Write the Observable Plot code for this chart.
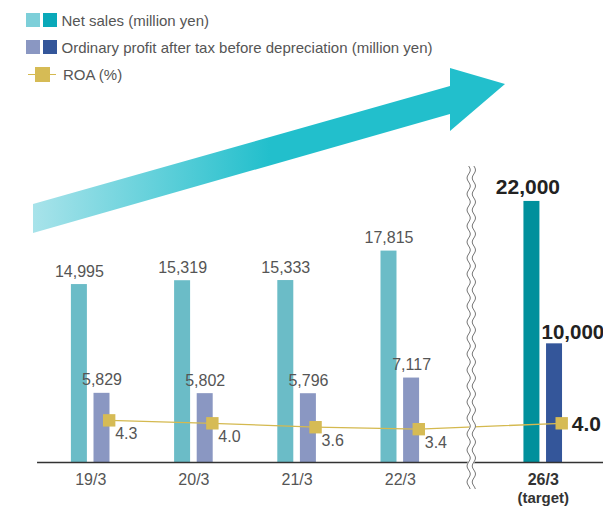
<!DOCTYPE html>
<html><head><meta charset="utf-8">
<script src="https://cdn.jsdelivr.net/npm/d3@7"></script>
<script src="https://cdn.jsdelivr.net/npm/@observablehq/plot@0.6"></script>
<style>
body{margin:0;background:#fff;font-family:"Liberation Sans",Arial,sans-serif;}
#wrap{position:relative;width:603px;height:507px;overflow:hidden;background:#fff;}
#wrap svg{position:absolute;left:0;top:0;}
.legend{position:absolute;left:0;top:0;font-size:15px;color:#555;}
.row{position:absolute;left:26px;display:flex;align-items:center;height:16px;white-space:nowrap;}
.sw{width:14px;height:14px;display:inline-block;margin-right:2.5px;}
.roa-sw{position:relative;width:28px;height:16px;margin-right:7px;margin-left:2px;}
.roa-sw .ln{position:absolute;left:0;right:0;top:7.5px;height:1.3px;background:#d4b94f;}
.roa-sw .sq{position:absolute;left:7px;top:0.5px;width:15px;height:15px;background:#d6bb55;}
</style></head><body><div id="wrap"></div>
<script>
// ---- data ----
const periods = ["19/3", "20/3", "21/3", "22/3", "26/3"];
const periodNotes = ["", "", "", "", "(target)"];
const netSales = [14995, 15319, 15333, 17815, 22000];
const profit = [5829, 5802, 5796, 7117, 10000];
const roa = [4.3, 4.0, 3.6, 3.4, 4.0];
const isTarget = [false, false, false, false, true];
const legendLabels = ["Net sales (million yen)", "Ordinary profit after tax before depreciation (million yen)", "ROA (%)"];

// ---- layout ----
const W = 603, H = 507;
const slot = i => isTarget[i] ? 4.385 : i;   // target sits beyond the axis break
const rows = periods.map((p, i) => ({p, note: periodNotes[i], x: slot(i), net: netSales[i], profit: profit[i], roa: roa[i], target: isTarget[i]}));
const xDomain = [-0.874, 4.969];
const hw = 0.0775, off = 0.1095, mOff = 0.179;
const fmt = d3.format(",");
const font = "'Liberation Sans', Arial, sans-serif";
const common = {
  width: W, height: H, marginLeft: 0, marginRight: 0, marginTop: 106, marginBottom: 45,
  x: {domain: xDomain, axis: null},
  style: {fontFamily: font, background: "transparent", overflow: "visible"}
};
const past = d => !d.target, tgt = d => d.target;

const bars = Plot.plot({
  ...common,
  y: {domain: [0, 30000], axis: null},
  marks: [
    Plot.rectY(rows, {filter: past, x1: d => d.x - off - hw, x2: d => d.x - off + hw, y1: 0, y2: "net", fill: "#6bbcc7"}),
    Plot.rectY(rows, {filter: tgt, x1: d => d.x - off - hw, x2: d => d.x - off + hw, y1: 0, y2: "net", fill: "#00909c"}),
    Plot.rectY(rows, {filter: past, x1: d => d.x + off - hw, x2: d => d.x + off + hw, y1: 0, y2: "profit", fill: "#8a97c2"}),
    Plot.rectY(rows, {filter: tgt, x1: d => d.x + off - hw, x2: d => d.x + off + hw, y1: 0, y2: "profit", fill: "#34569a"}),
    Plot.ruleY([0], {x1: -0.515, x2: xDomain[1], stroke: "#333", strokeWidth: 1.3}),
    Plot.text(rows, {filter: past, x: d => d.x - off, y: "net", text: d => fmt(d.net), dy: -8, lineAnchor: "bottom", fontSize: 16, fill: "#555"}),
    Plot.text(rows, {filter: past, x: d => d.x + off, y: "profit", text: d => fmt(d.profit), dy: -8, lineAnchor: "bottom", fontSize: 16, fill: "#555"}),
    Plot.text(rows, {filter: tgt, x: d => d.x - off, y: "net", text: d => fmt(d.net), dx: -4, dy: -7, lineAnchor: "bottom", fontSize: 21, fontWeight: "bold", fill: "#222"}),
    Plot.text(rows, {filter: tgt, x: d => d.x + off - hw, y: "profit", text: d => fmt(d.profit), dx: -5, dy: -5, lineAnchor: "bottom", textAnchor: "start", fontSize: 20.5, fontWeight: "bold", fill: "#222"}),
    Plot.text(rows, {filter: past, x: "x", y: 0, text: "p", dy: 17, fontSize: 16, fill: "#555"}),
    Plot.text(rows, {filter: tgt, x: "x", y: 0, text: "p", dy: 17, fontSize: 16, fontWeight: "bold", fill: "#333"}),
    Plot.text(rows, {filter: tgt, x: "x", y: 0, text: "note", dy: 36, fontSize: 15, fontWeight: "bold", fill: "#333"})
  ]
});

const roaPlot = Plot.plot({
  ...common,
  y: {domain: [0, 356 / 9.8], axis: null},
  marks: [
    Plot.line(rows, {x: d => d.x + mOff, y: "roa", stroke: "#d4b94f", strokeWidth: 1.3}),
    Plot.dot(rows, {x: d => d.x + mOff, y: "roa", symbol: "square", r: 7, fill: "#d6bb55", stroke: "none"}),
    Plot.text(rows, {filter: past, x: d => d.x + mOff, y: "roa", text: d => d.roa.toFixed(1), dx: 6, dy: 14, textAnchor: "start", fontSize: 16, fill: "#555"}),
    Plot.text(rows, {filter: tgt, x: d => d.x + mOff, y: "roa", text: d => d.roa.toFixed(1), dx: 10, dy: 1, textAnchor: "start", fontSize: 21, fontWeight: "bold", fill: "#222"})
  ]
});

const wrap = document.getElementById("wrap");
const NS = "http://www.w3.org/2000/svg";

// decorative growth arrow
const deco = document.createElementNS(NS, "svg");
deco.setAttribute("width", W); deco.setAttribute("height", H);
deco.innerHTML = `<defs><linearGradient id="ag" gradientUnits="userSpaceOnUse" x1="33" y1="0" x2="270" y2="0">
<stop offset="0" stop-color="#a8e3ea"/><stop offset="1" stop-color="#22bfcc"/></linearGradient></defs>
<polygon points="33,204 450,86 450,68 505,84 450,131 450,114 33,233" fill="url(#ag)"/>`;
wrap.appendChild(deco);
wrap.appendChild(bars);
wrap.appendChild(roaPlot);

// axis-break symbol between 22/3 and the target
const xs = bars.scale("x");
const bx = (xs.apply(3) + xs.apply(slot(4))) / 2;
const brk = document.createElementNS(NS, "svg");
brk.setAttribute("width", W); brk.setAttribute("height", H);
function wave(cx) {
  let s = "";
  for (let y = 166; y <= 489; y += 1) {
    const x = cx + 1.6 * Math.sin((y - 166) / 16 * 2 * Math.PI);
    s += (s ? "L" : "M") + x.toFixed(2) + "," + y;
  }
  return s;
}
brk.innerHTML = `<path d="${wave(bx)}" stroke="#fff" stroke-width="6" fill="none"/>
<path d="${wave(bx - 2.6)}" stroke="#777" stroke-width="1" fill="none"/>
<path d="${wave(bx + 2.6)}" stroke="#777" stroke-width="1" fill="none"/>`;
wrap.appendChild(brk);

// legend
const lg = document.createElement("div");
lg.className = "legend";
lg.innerHTML = `
<div class="row" style="top:12px"><span class="sw" style="background:#7dcfd9"></span><span class="sw" style="background:#0aa9b9;margin-right:5px"></span>${legendLabels[0]}</div>
<div class="row" style="top:39px"><span class="sw" style="background:#8a97c2"></span><span class="sw" style="background:#34569a;margin-right:5px"></span>${legendLabels[1]}</div>
<div class="row" style="top:66px;left:26px"><span class="roa-sw"><span class="ln"></span><span class="sq"></span></span>${legendLabels[2]}</div>`;
wrap.appendChild(lg);
</script></body></html>
